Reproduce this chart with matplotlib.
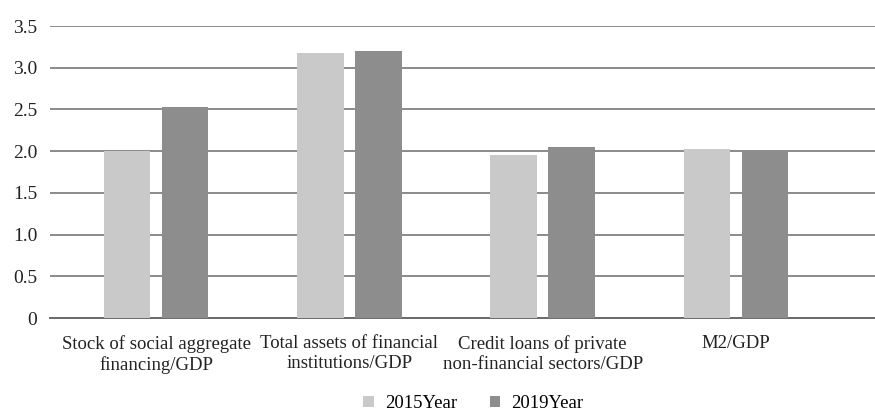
import numpy as np
import matplotlib.pyplot as plt

plt.rcParams['font.family'] = ['Liberation Serif', 'DejaVu Serif']

categories = [
    "Stock of social aggregate\nfinancing/GDP",
    "Total assets of financial\ninstitutions/GDP",
    "Credit loans of private\nnon-financial sectors/GDP",
    "M2/GDP",
]
series_names = ["2015Year", "2019Year"]
values_2015 = [2.00, 3.18, 1.95, 2.03]
values_2019 = [2.53, 3.20, 2.05, 1.99]
y_ticks = [0, 0.5, 1.0, 1.5, 2.0, 2.5, 3.0, 3.5]
y_tick_labels = ["0", "0.5", "1.0", "1.5", "2.0", "2.5", "3.0", "3.5"]

fig = plt.figure(figsize=(8.75, 4.17), dpi=100)
ax = fig.add_axes([0.057, 0.2374, 0.943, 0.7002])

x = np.arange(len(categories))
w = 0.24
ax.bar(x - 0.15, values_2015, w, color='#c9c9c9', label=series_names[0], zorder=3)
ax.bar(x + 0.15, values_2019, w, color='#8d8d8d', label=series_names[1], zorder=3)

ax.set_xlim(-0.55, 3.72)
ax.set_ylim(0, 3.5)
ax.set_yticks(y_ticks)
ax.set_yticklabels(y_tick_labels)
ax.set_xticks(x)
ax.set_xticklabels(categories, linespacing=1.25)

ax.yaxis.grid(True, color='#8a8a8a', linewidth=1.4, zorder=0)
ax.set_axisbelow(True)
for s in ['top', 'right', 'left']:
    ax.spines[s].set_visible(False)
ax.spines['bottom'].set_color('#6a6a6a')
ax.spines['bottom'].set_linewidth(1.4)
ax.tick_params(axis='y', length=0, labelsize=14, colors='#222222', pad=9)
ax.tick_params(axis='x', length=0, labelsize=13.5, colors='#222222', pad=12)

fig.legend(loc='lower center', bbox_to_anchor=(0.541, -0.028), ncol=2, frameon=False,
           fontsize=13.5, handlelength=0.55, handleheight=0.55, handletextpad=0.6,
           columnspacing=1.75)

fig.savefig('out.png', dpi=100)
